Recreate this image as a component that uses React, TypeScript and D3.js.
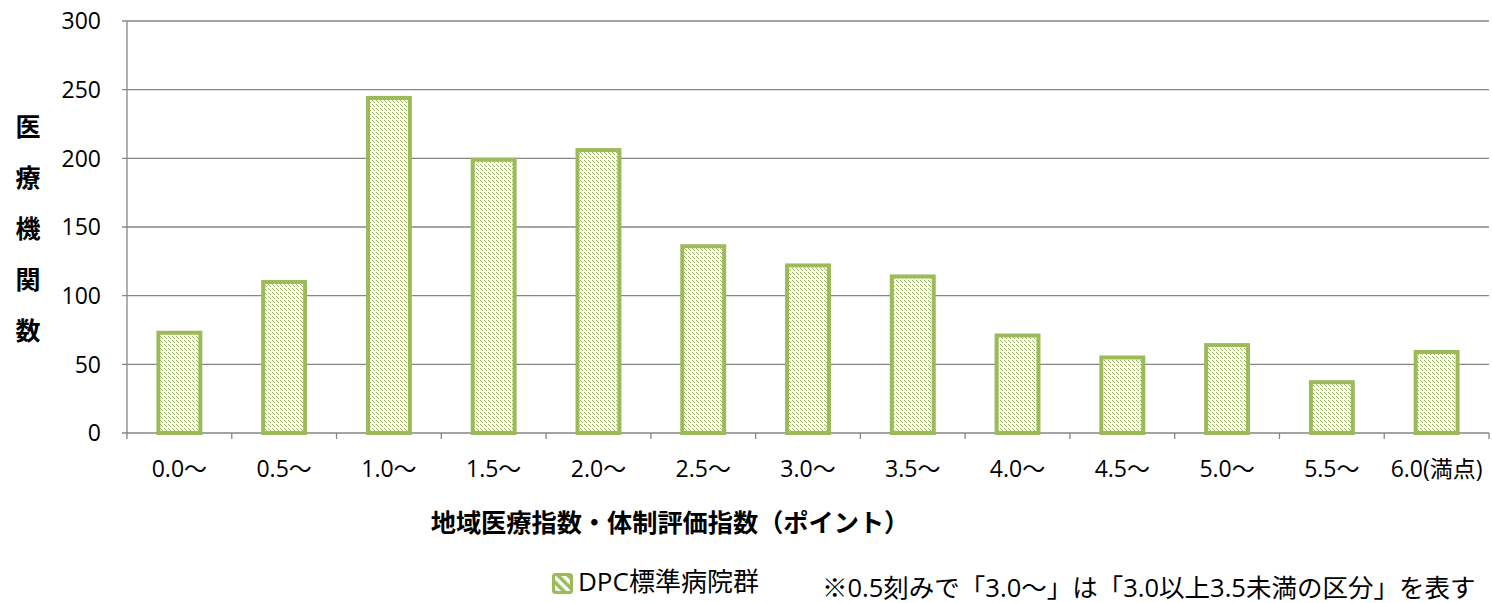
import React from "react";
import * as d3 from "d3";

const categories = ["0.0～", "0.5～", "1.0～", "1.5～", "2.0～", "2.5～", "3.0～", "3.5～", "4.0～", "4.5～", "5.0～", "5.5～", "6.0(満点)"];
const values = [73, 110, 244, 199, 206, 136, 122, 114, 71, 55, 64, 37, 59];
const yTicks = [0, 50, 100, 150, 200, 250, 300];
const yTitleChars = ["医", "療", "機", "関", "数"];
const seriesName = "DPC標準病院群";
const xTitle = "地域医療指数・体制評価指数（ポイント）";
const note = "※0.5刻みで「3.0～」は「3.0以上3.5未満の区分」を表す";

const W = 1492, H = 603;
const left = 127, right = 1489, top = 21, bottom = 433;
const green = "#9BBB59";
const axisColor = "#868686";
const font = "'Open Sans', 'Noto Sans CJK JP', sans-serif";
const cjkFont = "'Noto Sans CJK JP', sans-serif";

export default function App() {
  const x = d3.scaleBand<string>().domain(categories).range([left, right]).paddingInner(0.6).paddingOuter(0.3);
  const y = d3.scaleLinear().domain([0, 300]).range([bottom, top]);
  const step = x.step();
  return (
    <svg width={W} height={H} style={{ position: "absolute", left: 0, top: 0, background: "#fff" }}>
      <defs>
        <pattern id="hatch" patternUnits="userSpaceOnUse" x="0" y="0" width="4" height="4">
          <rect width="4" height="4" fill="#fff" />
          <rect x="0" y="0" width="1" height="1" fill={green} shapeRendering="crispEdges" />
          <rect x="1" y="1" width="1" height="1" fill={green} shapeRendering="crispEdges" />
          <rect x="2" y="2" width="1" height="1" fill={green} shapeRendering="crispEdges" />
        </pattern>
        <pattern id="hatchL" patternUnits="userSpaceOnUse" width="7" height="7" patternTransform="rotate(-45)">
          <rect width="7" height="7" fill="#fff" />
          <rect x="0" y="0" width="3.5" height="7" fill={green} />
        </pattern>
      </defs>
      {yTicks.map(t => (
        <g key={t}>
          <line x1={left - 5} x2={right} y1={y(t)} y2={y(t)} stroke={axisColor} strokeWidth={1.3} />
          <text x={101} y={y(t)} dy="0.36em" textAnchor="end" fontSize={23} fontFamily={font} fill="#000">{t}</text>
        </g>
      ))}
      <line x1={left} x2={left} y1={top} y2={bottom} stroke={axisColor} strokeWidth={1.3} />
      {d3.range(categories.length + 1).map(i => (
        <line key={i} x1={left + i * step} x2={left + i * step} y1={bottom} y2={bottom + 6} stroke={axisColor} strokeWidth={1.3} />
      ))}
      {categories.map((c, i) => (
        <rect key={c} x={x(c)!} y={y(values[i])} width={x.bandwidth()} height={bottom - y(values[i])}
          fill="url(#hatch)" stroke={green} strokeWidth={4} />
      ))}
      {categories.map(c => (
        <text key={c} x={x(c)! + x.bandwidth() / 2} y={469} dy="0.36em" textAnchor="middle" fontSize={23} fontFamily={font} fill="#000">{c}</text>
      ))}
      {yTitleChars.map((ch, i) => (
        <text key={ch} x={28} y={127 + i * 51} dy="0.36em" textAnchor="middle" fontSize={25} fontWeight="bold" fontFamily={cjkFont} fill="#000">{ch}</text>
      ))}
      <text x={670} y={523} dy="0.36em" textAnchor="middle" fontSize={25.2} fontWeight="bold" fontFamily={cjkFont} fill="#000">{xTitle}</text>
      <rect x={553.5} y={574.5} width={18} height={18} rx={2} fill="url(#hatchL)" stroke={green} strokeWidth={3} />
      <text x={578} y={582} dy="0.36em" fontSize={26} fontFamily={font} fill="#000">{seriesName}</text>
      <text x={822} y={588} dy="0.36em" fontSize={25.5} fontFamily={font} fill="#000">{note}</text>
    </svg>
  );
}
